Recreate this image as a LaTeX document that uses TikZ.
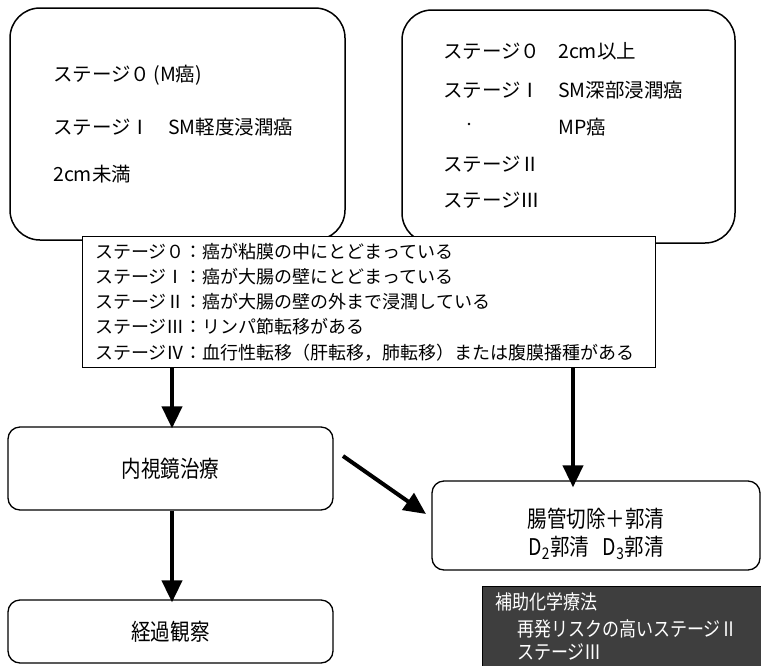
\documentclass[tikz,border=0pt]{standalone}
\usepackage{fontspec}
\setmainfont{Noto Sans CJK JP}
\newfontfamily\condfont[FakeStretch=0.85]{Noto Sans CJK JP}
\usetikzlibrary{arrows.meta}
\definecolor{darkfill}{RGB}{62,62,62}
\begin{document}
\begin{tikzpicture}[x=1pt,y=-1pt,
  bigbox/.style={draw,line width=1.5pt,rounded corners=30pt,inner sep=0,fill=white},
  flowbox/.style={draw,line width=1.3pt,rounded corners=12pt,inner sep=0,fill=white},
  legendbox/.style={draw,line width=1pt,fill=white,inner sep=0},
  txt/.style={anchor=west,inner sep=0,font=\fontsize{19.5}{22}\selectfont},
  ltxt/.style={anchor=west,inner sep=0,font=\fontsize{18}{20}\selectfont},
  ctxt/.style={inner sep=0,font=\condfont\fontsize{23}{26}\selectfont},
  wtxt/.style={anchor=west,inner sep=0,text=white,font=\condfont\fontsize{20}{22}\selectfont},
  bigarrow/.style={line width=4pt,-{Triangle[length=22pt,width=20pt]}},
]
\fill[white] (0,0) rectangle (761,665);
\useasboundingbox (0,0) rectangle (761,665);

% top boxes
\node[bigbox,minimum width=335pt,minimum height=232pt] (lbox) at (177.5,124) {};
\node[bigbox,minimum width=333pt,minimum height=233pt] (rbox) at (568.5,126.5) {};

\node[txt] (l1) at (53,75) {ステージ０\,(M癌)};
\node[txt] (l2a) at (53,127) {ステージⅠ};
\node[txt] (l2b) at (168,127) {SM軽度浸潤癌};
\node[txt] (l3) at (53,174) {2cm未満};

\node[txt] (r1a) at (443,51) {ステージ０};
\node[txt] (r1b) at (558,51) {2cm以上};
\node[txt] (r2a) at (443,90) {ステージⅠ};
\node[txt] (r2b) at (558,90) {SM深部浸潤癌};
\fill (469,124) circle (1.3pt);
\node[txt] (r3b) at (558,127) {MP癌};
\node[txt] (r4) at (443,164) {ステージⅡ};
\node[txt] (r5) at (443,200) {ステージⅢ};

% legend
\node[legendbox,minimum width=573pt,minimum height=131pt] (legend) at (368.5,301.5) {};
\node[ltxt] (g1) at (95,252) {ステージ０：癌が粘膜の中にとどまっている};
\node[ltxt] (g2) at (95,277) {ステージⅠ：癌が大腸の壁にとどまっている};
\node[ltxt] (g3) at (95,302) {ステージⅡ：癌が大腸の壁の外まで浸潤している};
\node[ltxt] (g4) at (95,327) {ステージⅢ：リンパ節転移がある};
\node[ltxt] (g5) at (95,353) {ステージⅣ：血行性転移（肝転移，肺転移）または腹膜播種がある};

% flow boxes
\node[flowbox,minimum width=325pt,minimum height=83pt] (endo) at (170.5,468.5) {};
\node[ctxt] at (endo.center) {内視鏡治療};
\node[flowbox,minimum width=328pt,minimum height=89pt] (surg) at (596,525.5) {};
\node[ctxt] (s1) at (596,519) {腸管切除＋郭清};
\node[ctxt] (s2) at (596,548) {D\textsubscript{2}郭清\hspace{0.6em}D\textsubscript{3}郭清};
\node[flowbox,minimum width=325pt,minimum height=63pt] (obs) at (170.5,631.5) {};
\node[ctxt] at (obs.center) {経過観察};

\node[draw=black,line width=1pt,fill=darkfill,minimum width=279pt,minimum height=80pt,inner sep=0] (chemo) at (622,626) {};
\node[wtxt] (c1) at (495,602) {補助化学療法};
\node[wtxt] (c2) at (517,629) {再発リスクの高いステージⅡ};
\node[wtxt] (c3) at (517,652) {ステージⅢ};

% arrows
\coordinate (a1s) at (172,367);
\coordinate (a2s) at (573,367);
\coordinate (dgs) at (343,456);
\coordinate (dge) at (426,514);
\draw[bigarrow] (a1s) -- ([yshift=-2pt]a1s |- endo.north);
\draw[bigarrow] (a2s) -- ([yshift=-7pt]a2s |- surg.north);
\draw[bigarrow] (dgs) -- (dge);
\draw[bigarrow] (endo.south -| a1s) -- ([yshift=-3pt]obs.north -| a1s);
\end{tikzpicture}
\end{document}
